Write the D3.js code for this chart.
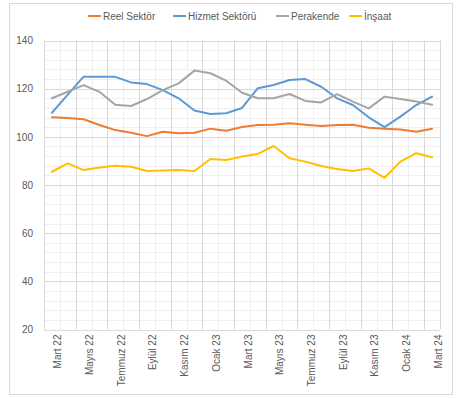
<!DOCTYPE html>
<html>
<head>
<meta charset="utf-8">
<script src="https://cdn.jsdelivr.net/npm/d3@7"></script>
<style>
  body { margin: 0; background: #fff; }
  text { font-family: "Liberation Sans", Arial, sans-serif; fill: #595959; }
</style>
</head>
<body>
<div id="chart"></div>
<script>
// months Mart 2022 .. Mart 2024
const months = [
  "Mart 22", "Nisan 22", "Mayıs 22", "Haziran 22", "Temmuz 22", "Ağustos 22",
  "Eylül 22", "Ekim 22", "Kasım 22", "Aralık 22", "Ocak 23", "Şubat 23",
  "Mart 23", "Nisan 23", "Mayıs 23", "Haziran 23", "Temmuz 23", "Ağustos 23",
  "Eylül 23", "Ekim 23", "Kasım 23", "Aralık 23", "Ocak 24", "Şubat 24", "Mart 24"
];
const seriesNames = ["Reel Sektör", "Hizmet Sektörü", "Perakende", "İnşaat"];
const reel = [108.1, 107.8, 107.3, 104.9, 102.8, 101.7, 100.3, 102.1, 101.5, 101.7, 103.4, 102.5, 104.1,
  104.9, 105.0, 105.6, 105.0, 104.5, 104.9, 105.0, 103.8, 103.4, 103.0, 102.1, 103.4];
const hizmet = [110.0, 117.5, 125.0, 125.0, 124.9, 122.6, 121.9, 119.4, 116.0, 110.9, 109.5, 109.8, 112.0,
  120.2, 121.5, 123.6, 124.0, 120.8, 116.0, 113.2, 108.1, 104.0, 108.4, 113.2, 116.7];
const perakende = [116.0, 118.7, 121.5, 118.7, 113.3, 112.8, 115.7, 119.4, 122.2, 127.5, 126.4, 123.3, 118.3,
  116.0, 116.0, 117.8, 114.9, 114.3, 117.7, 114.6, 111.8, 116.7, 115.7, 114.7, 113.3];
const insaat = [85.5, 89.0, 86.2, 87.3, 88.0, 87.6, 85.8, 86.0, 86.2, 85.8, 90.8, 90.4, 91.8,
  92.9, 96.2, 91.1, 89.7, 87.9, 86.6, 85.8, 86.9, 83.0, 89.7, 93.2, 91.5];
const yTicks = [20, 40, 60, 80, 100, 120, 140];

const colors = ["#ED7D31", "#5B9BD5", "#A5A5A5", "#FFC000"];
const series = [reel, hizmet, perakende, insaat];

const width = 459, height = 398;
const margins = { top: 40.5, bottom: 68.5, left: 44, right: 19 };

const svg = d3.select("#chart")
  .append("svg")
  .attr("width", width)
  .attr("height", height);

// chart border
svg.append("rect")
  .attr("x", 9.5).attr("y", 3.5)
  .attr("width", 443).attr("height", 391)
  .attr("fill", "none")
  .attr("stroke", "#d9d9d9");

const xScale = d3.scaleBand()
  .domain(months)
  .range([margins.left, width - margins.right])
  .padding(0);

const yScale = d3.scaleLinear()
  .domain([20, 140])
  .range([height - margins.bottom, margins.top]);

const cx = (i) => xScale(months[i]) + xScale.bandwidth() / 2;

// minor grid
const grid = svg.append("g").attr("class", "grid");
grid.selectAll(".hminor")
  .data(d3.range(20, 141, 4))
  .join("line")
  .attr("x1", margins.left).attr("x2", width - margins.right)
  .attr("y1", (d) => Math.round(yScale(d)) + 0.5)
  .attr("y2", (d) => Math.round(yScale(d)) + 0.5)
  .attr("stroke", "#efefef");

const bounds = months.map((m) => xScale(m)).concat([xScale.range()[1]]);
grid.selectAll(".vminor")
  .data(bounds)
  .join("line")
  .attr("x1", (d) => Math.round(d) + 0.5).attr("x2", (d) => Math.round(d) + 0.5)
  .attr("y1", margins.top).attr("y2", height - margins.bottom)
  .attr("stroke", (d, i) => (i % 2 == 0 || i == bounds.length - 1) ? "#d9d9d9" : "#efefef");

grid.selectAll(".hmajor")
  .data(yTicks)
  .join("line")
  .attr("x1", margins.left).attr("x2", width - margins.right)
  .attr("y1", (d) => Math.round(yScale(d)) + 0.5)
  .attr("y2", (d) => Math.round(yScale(d)) + 0.5)
  .attr("stroke", "#d9d9d9");

// y axis
const yAxis = d3.axisLeft(yScale).tickValues(yTicks).tickSize(0).tickPadding(0);
svg.append("g")
  .attr("class", "axis y-axis")
  .attr("transform", `translate(33,0)`)
  .call(yAxis)
  .call((g) => g.select(".domain").remove())
  .selectAll("text")
  .style("font-size", "10px")
  .style("font-family", "Liberation Sans, Arial, sans-serif")
  .attr("fill", "#595959");

// x labels, every second month
svg.append("g")
  .attr("class", "axis x-axis")
  .selectAll("text")
  .data(months.filter((d, i) => i % 2 == 0))
  .join("text")
  .attr("transform", (d) => `translate(${xScale(d) + xScale.bandwidth() / 2 + 6},${height - margins.bottom + 5}) rotate(-90)`)
  .attr("dy", "0.35em")
  .attr("text-anchor", "end")
  .style("font-size", "10px")
  .text((d) => d);

// lines
const line = d3.line()
  .x((d, i) => cx(i))
  .y((d) => yScale(d));

svg.selectAll(".series")
  .data(series)
  .join("path")
  .attr("class", "series")
  .attr("d", line)
  .attr("fill", "none")
  .attr("stroke", (d, i) => colors[i])
  .attr("stroke-width", 2)
  .attr("stroke-linejoin", "round")
  .attr("stroke-linecap", "round");

// legend
const legendX = [88, 173, 276, 349];
const legend = svg.append("g").attr("class", "legend");
const item = legend.selectAll("g")
  .data(seriesNames)
  .join("g")
  .attr("transform", (d, i) => `translate(${legendX[i]},16)`);
item.append("line")
  .attr("x1", 0).attr("x2", 13)
  .attr("stroke", (d, i) => colors[i])
  .attr("stroke-width", 2);
item.append("text")
  .attr("x", 15)
  .attr("dy", "0.35em")
  .style("font-size", "10px")
  .text((d) => d);
</script>
</body>
</html>
